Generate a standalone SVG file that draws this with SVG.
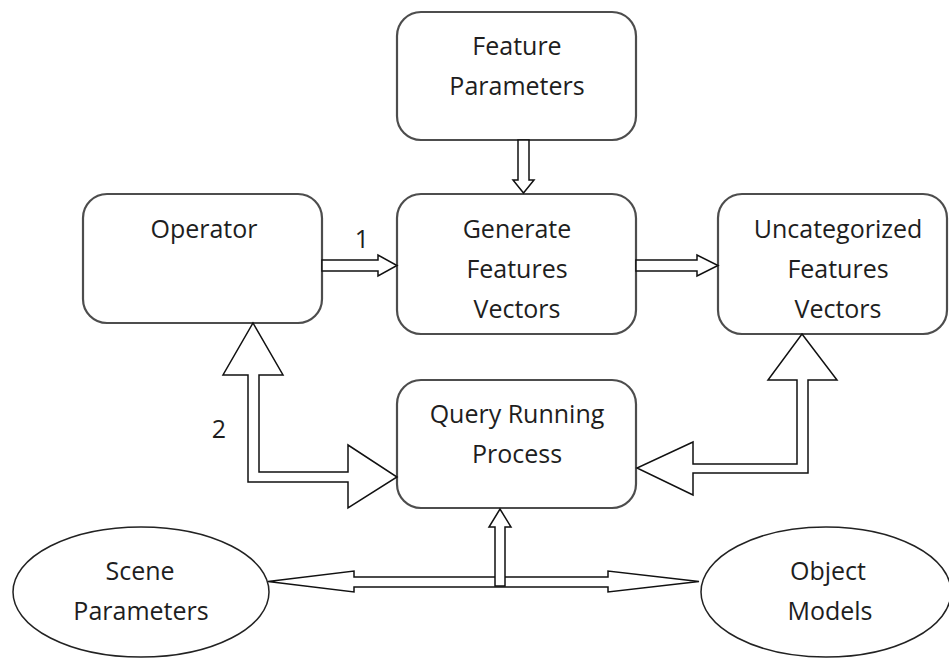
<svg xmlns="http://www.w3.org/2000/svg" width="949" height="661" viewBox="0 0 949 661">
<style>
.box{fill:#fff;stroke:#4d4d4d;stroke-width:2.2}
.ell{fill:#fff;stroke:#222;stroke-width:1.5}
.arr{fill:#fff;stroke:#111;stroke-width:1.5;stroke-linejoin:miter}
text{font-family:"Open Sans","Liberation Sans",sans-serif;font-size:25px;fill:#1e1e1e;text-anchor:middle}
</style>
<rect width="949" height="661" fill="#fff"/>
<g id="feature-parameters">
<rect class="box" x="397" y="12" width="239" height="128" rx="24"/>
<text x="517" y="55">Feature</text>
<text x="517" y="95">Parameters</text>
</g>
<g id="operator">
<rect class="box" x="83" y="194" width="239" height="129" rx="24"/>
<text x="204" y="238">Operator</text>
</g>
<g id="generate">
<rect class="box" x="397" y="194" width="239" height="140" rx="24"/>
<text x="517" y="238">Generate</text>
<text x="517" y="278">Features</text>
<text x="517" y="318">Vectors</text>
</g>
<g id="uncategorized">
<rect class="box" x="718" y="194" width="229" height="140" rx="24"/>
<text x="838" y="238">Uncategorized</text>
<text x="838" y="278">Features</text>
<text x="838" y="318">Vectors</text>
</g>
<g id="query">
<rect class="box" x="397" y="380" width="239" height="128" rx="24"/>
<text x="517" y="423">Query Running</text>
<text x="517" y="463">Process</text>
</g>
<g id="scene-parameters">
<ellipse class="ell" cx="141" cy="592" rx="128" ry="65"/>
<text x="140" y="580">Scene</text>
<text x="141" y="620">Parameters</text>
</g>
<g id="object-models">
<ellipse class="ell" cx="826" cy="592" rx="125" ry="65"/>
<text x="828" y="580">Object</text>
<text x="830" y="620">Models</text>
</g>
<g id="connectors">
<polygon class="arr" points="518,140 529,140 529,180 534,180 523.5,193 513,180 518,180"/>
<polygon class="arr" points="322,260 378,260 378,255 397,265.5 378,276 378,271 322,271"/>
<polygon class="arr" points="636,260 697,260 697,255 718,265.5 697,276 697,271 636,271"/>
<polygon class="arr" points="253,323 283,375 259,375 259,472 348,472 348,445 397,477 348,508 348,482 248,482 248,375 223,375"/>
<polygon class="arr" points="802,334 837,380 808,380 808,473 693,473 693,495 637,468 693,442 693,464 797,464 797,380 768,380"/>
<polygon class="arr" points="268,581.5 354,571 354,577 608,577 608,571 699,581.5 608,592 608,587 354,587 354,592"/>
<polygon class="arr" points="495,586 495,527 489,527 500,509 511,527 505,527 505,586"/>
</g>
<g id="labels">
<text x="362" y="248">1</text>
<text x="219" y="438">2</text>
</g>
</svg>
